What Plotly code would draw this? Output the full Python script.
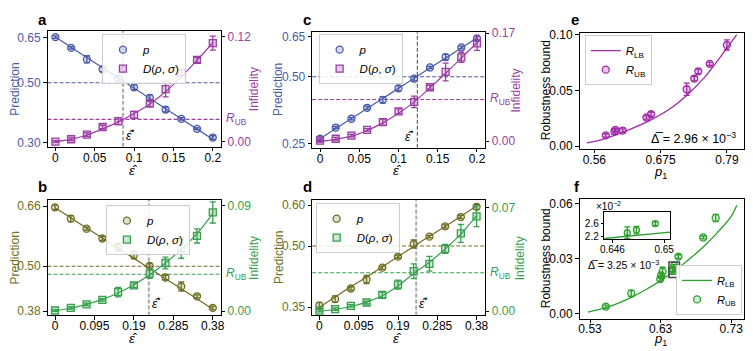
import plotly.graph_objects as go

W, H = 753, 351
FONT = "Liberation Sans, Arial, sans-serif"

# ---------------- data ----------------
eps_ac = [0, 0.02, 0.04, 0.06, 0.08, 0.10, 0.12, 0.14, 0.16, 0.18, 0.20]
eps_bd = [0, 0.038, 0.076, 0.114, 0.152, 0.19, 0.228, 0.266, 0.304, 0.342, 0.38]
ticks_ac = [0, 0.05, 0.1, 0.15, 0.2]
ticklabels_ac = ["0", "0.05", "0.1", "0.15", "0.2"]
ticks_bd = [0, 0.095, 0.19, 0.285, 0.38]
ticklabels_bd = ["0", "0.095", "0.19", "0.285", "0.38"]

# panel a
p_a = [0.652, 0.616, 0.578, 0.545, 0.514, 0.485, 0.450, 0.411, 0.380, 0.347, 0.318]
p_a_err = [0.004, 0.004, 0.012, 0.008, 0.010, 0.008, 0.010, 0.008, 0.004, 0.003, 0.006]
p_a_fit = [0.652, 0.618, 0.584, 0.550, 0.516, 0.482, 0.448, 0.414, 0.380, 0.346, 0.312]
D_a = [0.0000, 0.0026, 0.0078, 0.0166, 0.0233, 0.0306, 0.0436, 0.0600, 0.0786, 0.0934, 0.1126]
D_a_err = [0.001, 0.0015, 0.002, 0.002, 0.004, 0.004, 0.004, 0.009, 0.003, 0.003, 0.008]
D_a_fit = [0.0000, 0.0025, 0.0075, 0.0145, 0.0225, 0.0320, 0.0430, 0.0570, 0.0740, 0.0930, 0.1130]
Rub_a, estar_a = 0.0253, 0.086

# panel c
p_c = [0.268, 0.310, 0.343, 0.384, 0.414, 0.457, 0.493, 0.535, 0.574, 0.610, 0.644]
p_c_err = [0.006, 0.004, 0.004, 0.006, 0.012, 0.010, 0.008, 0.004, 0.010, 0.005, 0.007]
p_c_fit = [0.268, 0.306, 0.344, 0.381, 0.419, 0.457, 0.495, 0.533, 0.570, 0.608, 0.646]
D_c = [0.001, 0.004, 0.009, 0.018, 0.030, 0.047, 0.062, 0.085, 0.109, 0.132, 0.154]
D_c_err = [0.002, 0.002, 0.002, 0.002, 0.005, 0.004, 0.009, 0.003, 0.014, 0.008, 0.011]
D_c_fit = [0.000, 0.003, 0.008, 0.017, 0.029, 0.044, 0.062, 0.084, 0.107, 0.131, 0.155]
Rub_c, estar_c = 0.0658, 0.124

# panel b
p_b = [0.657, 0.627, 0.600, 0.574, 0.551, 0.530, 0.501, 0.470, 0.446, 0.420, 0.389]
p_b_err = [0.006, 0.008, 0.004, 0.005, 0.010, 0.010, 0.006, 0.006, 0.012, 0.004, 0.005]
p_b_fit = [0.656, 0.629, 0.602, 0.575, 0.548, 0.521, 0.494, 0.467, 0.440, 0.413, 0.386]
D_b = [0.0006, 0.0028, 0.0058, 0.0096, 0.0162, 0.0220, 0.0320, 0.0410, 0.0530, 0.0640, 0.0840]
D_b_err = [0.0008, 0.001, 0.001, 0.001, 0.004, 0.002, 0.004, 0.005, 0.008, 0.006, 0.009]
D_b_fit = [0.0005, 0.0025, 0.0058, 0.0100, 0.0155, 0.0225, 0.0310, 0.0410, 0.0525, 0.0660, 0.0830]
Rub_b, estar_b = 0.0314, 0.226

# panel d
p_d = [0.354, 0.370, 0.396, 0.418, 0.447, 0.474, 0.505, 0.523, 0.548, 0.571, 0.596]
p_d_err = [0.008, 0.008, 0.004, 0.010, 0.004, 0.004, 0.010, 0.003, 0.004, 0.004, 0.006]
p_d_fit = [0.350, 0.375, 0.400, 0.424, 0.449, 0.474, 0.499, 0.524, 0.548, 0.573, 0.598]
D_d = [0.0004, 0.0015, 0.0037, 0.0059, 0.0110, 0.0180, 0.0270, 0.0320, 0.0420, 0.0525, 0.0640]
D_d_err = [0.0008, 0.0008, 0.0008, 0.001, 0.002, 0.003, 0.005, 0.005, 0.003, 0.006, 0.007]
D_d_fit = [0.0000, 0.0012, 0.0032, 0.0062, 0.0105, 0.0170, 0.0255, 0.0330, 0.0420, 0.0520, 0.0645]
Rub_d, estar_d = 0.0260, 0.234

# panel e
e_p1 = [0.580, 0.5949, 0.5966, 0.6092, 0.6504, 0.6584, 0.7202, 0.7333, 0.7402, 0.7602, 0.7899]
e_rub = [0.0096, 0.0131, 0.0146, 0.0140, 0.0257, 0.0286, 0.0510, 0.0606, 0.0671, 0.0738, 0.0907]
e_err = [0.0015, 0.0025, 0.0015, 0.0015, 0.0015, 0.0020, 0.0055, 0.0020, 0.0020, 0.0015, 0.0045]
e_lb_p1 = [0.547, 0.57, 0.60, 0.63, 0.66, 0.69, 0.72, 0.75, 0.78, 0.807]
e_lb = [0.0029, 0.0055, 0.0105, 0.0168, 0.0240, 0.0330, 0.0455, 0.0610, 0.0810, 0.1000]

# panel f
f_p1 = [0.5524, 0.5884, 0.6295, 0.6305, 0.6328, 0.64715, 0.64786, 0.64931, 0.6552, 0.6903, 0.7080]
f_rub = [0.0039, 0.0111, 0.0189, 0.0208, 0.0229, 0.0233, 0.0241, 0.0261, 0.0311, 0.0415, 0.0521]
f_err = [0.0008, 0.0016, 0.0012, 0.0012, 0.0024, 0.0018, 0.0011, 0.0006, 0.0010, 0.0008, 0.0020]
f_lb_p1 = [0.527, 0.55, 0.57, 0.59, 0.61, 0.63, 0.65, 0.67, 0.69, 0.71, 0.73, 0.738]
f_lb = [0.0009, 0.0030, 0.0058, 0.0092, 0.0133, 0.0180, 0.0235, 0.0295, 0.0362, 0.0440, 0.0530, 0.0590]
# inset (units of 1e-2)
ins_p1 = [0.64715, 0.64786, 0.64931]
ins_rub = [2.33, 2.41, 2.61]
ins_err = [0.18, 0.115, 0.06]
ins_lb_p1 = [0.64537, 0.65046]
ins_lb = [2.15, 2.35]

# ---------------- colours ----------------
BLUE, BLUE_F = "#4A5BA8", "rgba(74,91,168,0.22)"
PURP, PURP_F = "#9B3FA3", "rgba(155,63,163,0.28)"
OLIVE, OLIVE_F = "#6E6E22", "rgba(110,110,34,0.20)"
GREEN, GREEN_F = "#36A04C", "rgba(54,160,76,0.25)"
PURP_E, PURP_E_F = "#A02AA8", "rgba(160,42,168,0.25)"
GREEN_F2, GREEN_F2_F = "#2CA02C", "rgba(44,160,44,0.20)"


def dx(px):
    return px / W


def dy(py):
    return 1 - py / H


fig = go.Figure()
layout = {}
annotations = []
shapes = []

AX_COMMON = dict(showline=True, linecolor="black", linewidth=1, ticks="outside",
                 ticklen=3.5, tickwidth=1, tickcolor="black", showgrid=False,
                 zeroline=False, fixedrange=True)
XSTANDOFF = -4

LEG_COMMON = dict(bgcolor="rgba(255,255,255,0.85)", bordercolor="#cccccc", borderwidth=1,
                  font=dict(size=11.5, family=FONT, color="black"), tracegroupgap=0,
                  itemwidth=30)


def ann(x, y, text, size=12, color="black", angle=0, xanchor="center", yanchor="middle", **kw):
    d = dict(x=x, y=y, text=text, showarrow=False, textangle=angle,
             font=dict(size=size, color=color, family=FONT),
             xanchor=xanchor, yanchor=yanchor)
    if "xref" not in kw:
        d["xref"] = "paper"
    if "yref" not in kw:
        d["yref"] = "paper"
    d.update(kw)
    annotations.append(d)


def twin_panel(n, box, xr, xt, xtt, ylr, ylt, yltt, yrr, yrt, yrtt, eps, p, perr, pfit,
               D, Derr, Dfit, c1, f1, c2, f2, rub, estar, vcol, vwidth, leg, legpos,
               star_left, label, label_pos, titlex):
    xi = n
    yl = 2 * n - 1
    yr = 2 * n
    xk = "xaxis" if xi == 1 else f"xaxis{xi}"
    xref = "x" if xi == 1 else f"x{xi}"
    ylk = "yaxis" if yl == 1 else f"yaxis{yl}"
    ylref = "y" if yl == 1 else f"y{yl}"
    yrk = f"yaxis{yr}"
    yrref = f"y{yr}"
    x0, y0, x1, y1 = box
    dom_y = [dy(y1), dy(y0)]
    layout[xk] = dict(AX_COMMON, domain=[dx(x0), dx(x1)], range=xr, anchor=ylref,
                      tickvals=xt, ticktext=xtt, mirror=True, ticklabelstandoff=XSTANDOFF,
                      tickfont=dict(size=12, color="black", family=FONT))
    layout[ylk] = dict(AX_COMMON, domain=dom_y, range=ylr, anchor=xref,
                       tickvals=ylt, ticktext=yltt, mirror=True,
                       tickfont=dict(size=12, color=c1, family=FONT))
    layout[yrk] = dict(AX_COMMON, domain=dom_y, range=yrr, anchor=xref,
                       overlaying=ylref, side="right",
                       tickvals=yrt, ticktext=yrtt,
                       tickfont=dict(size=12, color=c2, family=FONT))
    # dashed lines
    shapes.append(dict(type="line", xref=f"{xref} domain", yref=ylref, x0=0, x1=1, y0=0.5, y1=0.5,
                       line=dict(color=c1, width=1.1, dash="4px,2px"), layer="below"))
    shapes.append(dict(type="line", xref=f"{xref} domain", yref=yrref, x0=0, x1=1, y0=rub, y1=rub,
                       line=dict(color=c2, width=1.1, dash="4px,2px"), layer="below"))
    shapes.append(dict(type="line", xref=xref, yref=f"{ylref} domain", x0=estar, x1=estar, y0=0, y1=1,
                       line=dict(color=vcol, width=vwidth, dash="4px,2px"), layer="below"))
    # traces
    fig.add_trace(go.Scatter(x=eps, y=pfit, mode="lines", line=dict(color=c1, width=1.2, shape="spline"),
                             xaxis=xref, yaxis=ylref, showlegend=False, hoverinfo="skip"))
    fig.add_trace(go.Scatter(x=eps, y=p, mode="markers", name="<i>p</i>",
                             marker=dict(symbol="circle", size=7, color=f1, line=dict(color=c1, width=1.3)),
                             error_y=dict(type="data", array=perr, visible=True, color=c1, thickness=1.3, width=3),
                             xaxis=xref, yaxis=ylref, legend=leg))
    fig.add_trace(go.Scatter(x=eps, y=Dfit, mode="lines", line=dict(color=c2, width=1.2, shape="spline"),
                             xaxis=xref, yaxis=yrref, showlegend=False, hoverinfo="skip"))
    fig.add_trace(go.Scatter(x=eps, y=D, mode="markers", name="<i>D</i>(<i>ρ</i>, <i>σ</i>)",
                             marker=dict(symbol="square", size=7, color=f2, line=dict(color=c2, width=1.3)),
                             error_y=dict(type="data", array=Derr, visible=True, color=c2, thickness=1.3, width=3),
                             xaxis=xref, yaxis=yrref, legend=leg))
    layout[leg] = dict(LEG_COMMON, x=dx(legpos[0]), y=dy(legpos[1]), xanchor="left", yanchor="top")
    # R_UB label
    ann(1, rub, "<i>R</i><sub>UB</sub>", size=12, color=c2, xanchor="left",
        xref=f"{xref} domain", yref=yrref, xshift=3)
    # eps* label
    if star_left:
        ann(estar, 0.02, "<i>ε̂</i><sup>*</sup>", size=12, xanchor="right", yanchor="bottom",
            xref=xref, yref=f"{ylref} domain", xshift=-1)
    else:
        ann(estar, 0.02, "<i>ε̂</i><sup>*</sup>", size=12, xanchor="left", yanchor="bottom",
            xref=xref, yref=f"{ylref} domain", xshift=1)
    # titles
    ymid = (y0 + y1) / 2
    ann(dx(titlex[0]), dy(ymid), "Prediction", size=12, color=c1, angle=-90)
    ann(dx(titlex[1]), dy(ymid), "Infidelity", size=12, color=c2, angle=-90)
    ann(dx(titlex[2]), dy(titlex[3]), "<i>ε̂</i>", size=13, yanchor="top")
    ann(dx(label_pos[0]), dy(label_pos[1]), f"<b>{label}</b>", size=15)


twin_panel(1, (44, 25.5, 219, 145), [-0.01, 0.21], ticks_ac, ticklabels_ac,
           [0.287, 0.673], [0.30, 0.50, 0.65], ["0.30", "0.50", "0.65"],
           [-0.0061, 0.1267], [0, 0.12], ["0.00", "0.12"],
           eps_ac, p_a, p_a_err, p_a_fit, D_a, D_a_err, D_a_fit,
           BLUE, BLUE_F, PURP, PURP_F, Rub_a, estar_a, "#aaaaaa", 2, "legend", (99, 29),
           False, "a", (39, 13.5), (11, 252, 131, 160))

twin_panel(2, (44, 199.5, 219, 318.5), [-0.018, 0.399], ticks_bd, ticklabels_bd,
           [0.369, 0.677], [0.38, 0.50, 0.66], ["0.38", "0.50", "0.66"],
           [-0.0036, 0.0947], [0, 0.09], ["0.00", "0.09"],
           eps_bd, p_b, p_b_err, p_b_fit, D_b, D_b_err, D_b_fit,
           OLIVE, OLIVE_F, GREEN, GREEN_F, Rub_b, estar_b, "#aaaaaa", 2, "legend2", (103, 205),
           False, "b", (39, 186), (11, 252, 131, 332))

twin_panel(3, (311.5, 27, 486, 146), [-0.01, 0.21], ticks_ac, ticklabels_ac,
           [0.234, 0.667], [0.25, 0.50, 0.65], ["0.25", "0.50", "0.65"],
           [-0.0103, 0.1715], [0, 0.17], ["0.00", "0.17"],
           eps_ac, p_c, p_c_err, p_c_fit, D_c, D_c_err, D_c_fit,
           BLUE, BLUE_F, PURP, PURP_F, Rub_c, estar_c, "#555555", 1.1, "legend3", (318, 29),
           True, "c", (306.5, 13.5), (277, 518, 398, 160))

twin_panel(4, (311.5, 200, 486, 318.5), [-0.0175, 0.40], ticks_bd, ticklabels_bd,
           [0.330, 0.612], [0.35, 0.50, 0.60], ["0.35", "0.50", "0.60"],
           [-0.0028, 0.0748], [0, 0.07], ["0.00", "0.07"],
           eps_bd, p_d, p_d_err, p_d_fit, D_d, D_d_err, D_d_fit,
           OLIVE, OLIVE_F, GREEN, GREEN_F, Rub_d, estar_d, "#aaaaaa", 2, "legend4", (315, 203),
           False, "d", (307, 186), (278, 521, 398, 332))

# ---------------- panel e ----------------
layout["xaxis5"] = dict(AX_COMMON, domain=[dx(581.7), dx(747.7)], range=[0.5343, 0.8192], anchor="y9",
                        tickvals=[0.56, 0.675, 0.79], ticktext=["0.56", "0.675", "0.79"], mirror=True,
                        ticklabelstandoff=XSTANDOFF,
                        tickfont=dict(size=12, color="black", family=FONT))
layout["yaxis9"] = dict(AX_COMMON, domain=[dy(147), dy(27.5)], range=[-0.0024, 0.1017], anchor="x5",
                        tickvals=[0, 0.05, 0.10], ticktext=["0.00", "0.05", "0.10"], mirror=True,
                        tickfont=dict(size=12, color="black", family=FONT))
fig.add_trace(go.Scatter(x=e_lb_p1, y=e_lb, mode="lines", name="<i>R</i><sub>LB</sub>",
                         line=dict(color=PURP_E, width=1.3, shape="spline"),
                         xaxis="x5", yaxis="y9", legend="legend5"))
fig.add_trace(go.Scatter(x=e_p1, y=e_rub, mode="markers", name="<i>R</i><sub>UB</sub>",
                         marker=dict(symbol="circle", size=7, color=PURP_E_F, line=dict(color=PURP_E, width=1.3)),
                         error_y=dict(type="data", array=e_err, visible=True, color=PURP_E, thickness=1.3, width=3),
                         xaxis="x5", yaxis="y9", legend="legend5"))
layout["legend5"] = dict(LEG_COMMON, x=dx(587), y=dy(30), xanchor="left", yanchor="top")
ann(dx(742), dy(136), "Δ̅ = 2.96 × 10<sup>−3</sup>", size=12.5, xanchor="right")
ann(dx(547.5), dy(87), "Robustness bound", size=12, angle=-90)
ann(dx(664), dy(161), "<i>p</i><sub>1</sub>", size=13, yanchor="top")
ann(dx(577), dy(13.5), "<b>e</b>", size=15)

# ---------------- panel f ----------------
layout["xaxis6"] = dict(AX_COMMON, domain=[dx(581.7), dx(747.7)], range=[0.5151, 0.7478], anchor="y10",
                        tickvals=[0.53, 0.63, 0.73], ticktext=["0.53", "0.63", "0.73"], mirror=True,
                        ticklabelstandoff=XSTANDOFF,
                        tickfont=dict(size=12, color="black", family=FONT))
layout["yaxis10"] = dict(AX_COMMON, domain=[dy(321.7), dy(198.3)], range=[-0.0026, 0.0626], anchor="x6",
                         tickvals=[0, 0.03, 0.06], ticktext=["0.00", "0.03", "0.06"], mirror=True,
                         tickfont=dict(size=12, color="black", family=FONT))
fig.add_trace(go.Scatter(x=f_lb_p1, y=f_lb, mode="lines", name="<i>R</i><sub>LB</sub>",
                         line=dict(color=GREEN_F2, width=1.3, shape="spline"),
                         xaxis="x6", yaxis="y10", legend="legend6"))
fig.add_trace(go.Scatter(x=f_p1, y=f_rub, mode="markers", name="<i>R</i><sub>UB</sub>",
                         marker=dict(symbol="circle", size=7, color=GREEN_F2_F, line=dict(color=GREEN_F2, width=1.3)),
                         error_y=dict(type="data", array=f_err, visible=True, color=GREEN_F2, thickness=1.3, width=3),
                         xaxis="x6", yaxis="y10", legend="legend6"))
layout["legend6"] = dict(LEG_COMMON, x=dx(746), y=dy(318), xanchor="right", yanchor="bottom",
                         font=dict(size=11, family=FONT, color="black"))
shapes.append(dict(type="rect", xref="x6", yref="y10", x0=0.6418, x1=0.6567, y0=0.0197, y1=0.0282,
                   line=dict(color="#444444", width=1.5)))
ann(dx(588), dy(266), "Δ̅ = 3.25 × 10<sup>−3</sup>", size=10.5, xanchor="left")
ann(dx(547.5), dy(260), "Robustness bound", size=12, angle=-90)
ann(dx(664), dy(332), "<i>p</i><sub>1</sub>", size=13, yanchor="top")
ann(dx(579.5), dy(186), "<b>f</b>", size=15)

# inset
layout["xaxis7"] = dict(AX_COMMON, domain=[dx(606.7), dx(673.3)], range=[0.64537, 0.65046], anchor="y11",
                        tickvals=[0.646, 0.65], ticktext=["0.646", "0.65"], mirror=True, ticklen=2.5,
                        ticklabelstandoff=-2,
                        tickfont=dict(size=10, color="black", family=FONT))
layout["yaxis11"] = dict(AX_COMMON, domain=[dy(240), dy(212.3)], range=[2.13, 2.96], anchor="x7",
                         tickvals=[2.2, 2.6], ticktext=["2.2", "2.6"], mirror=True, ticklen=2.5,
                         tickfont=dict(size=10, color="black", family=FONT))
fig.add_trace(go.Scatter(x=ins_lb_p1, y=ins_lb, mode="lines", line=dict(color=GREEN_F2, width=1.3),
                         xaxis="x7", yaxis="y11", showlegend=False))
fig.add_trace(go.Scatter(x=ins_p1, y=ins_rub, mode="markers",
                         marker=dict(symbol="circle", size=6, color=GREEN_F2_F, line=dict(color=GREEN_F2, width=1.3)),
                         error_y=dict(type="data", array=ins_err, visible=True, color=GREEN_F2, thickness=1.3, width=3),
                         xaxis="x7", yaxis="y11", showlegend=False))
ann(dx(596), dy(206), "×10<sup>−2</sup>", size=10, xanchor="left")

fig.update_layout(
    width=W, height=H, margin=dict(l=0, r=0, t=0, b=0),
    paper_bgcolor="white", plot_bgcolor="white",
    font=dict(family=FONT, size=12, color="black"),
    annotations=annotations, shapes=shapes, **layout,
)
fig.write_html("out.html", config={"displayModeBar": False},
               post_script="document.body.style.margin='0px';document.body.style.overflow='hidden';")
